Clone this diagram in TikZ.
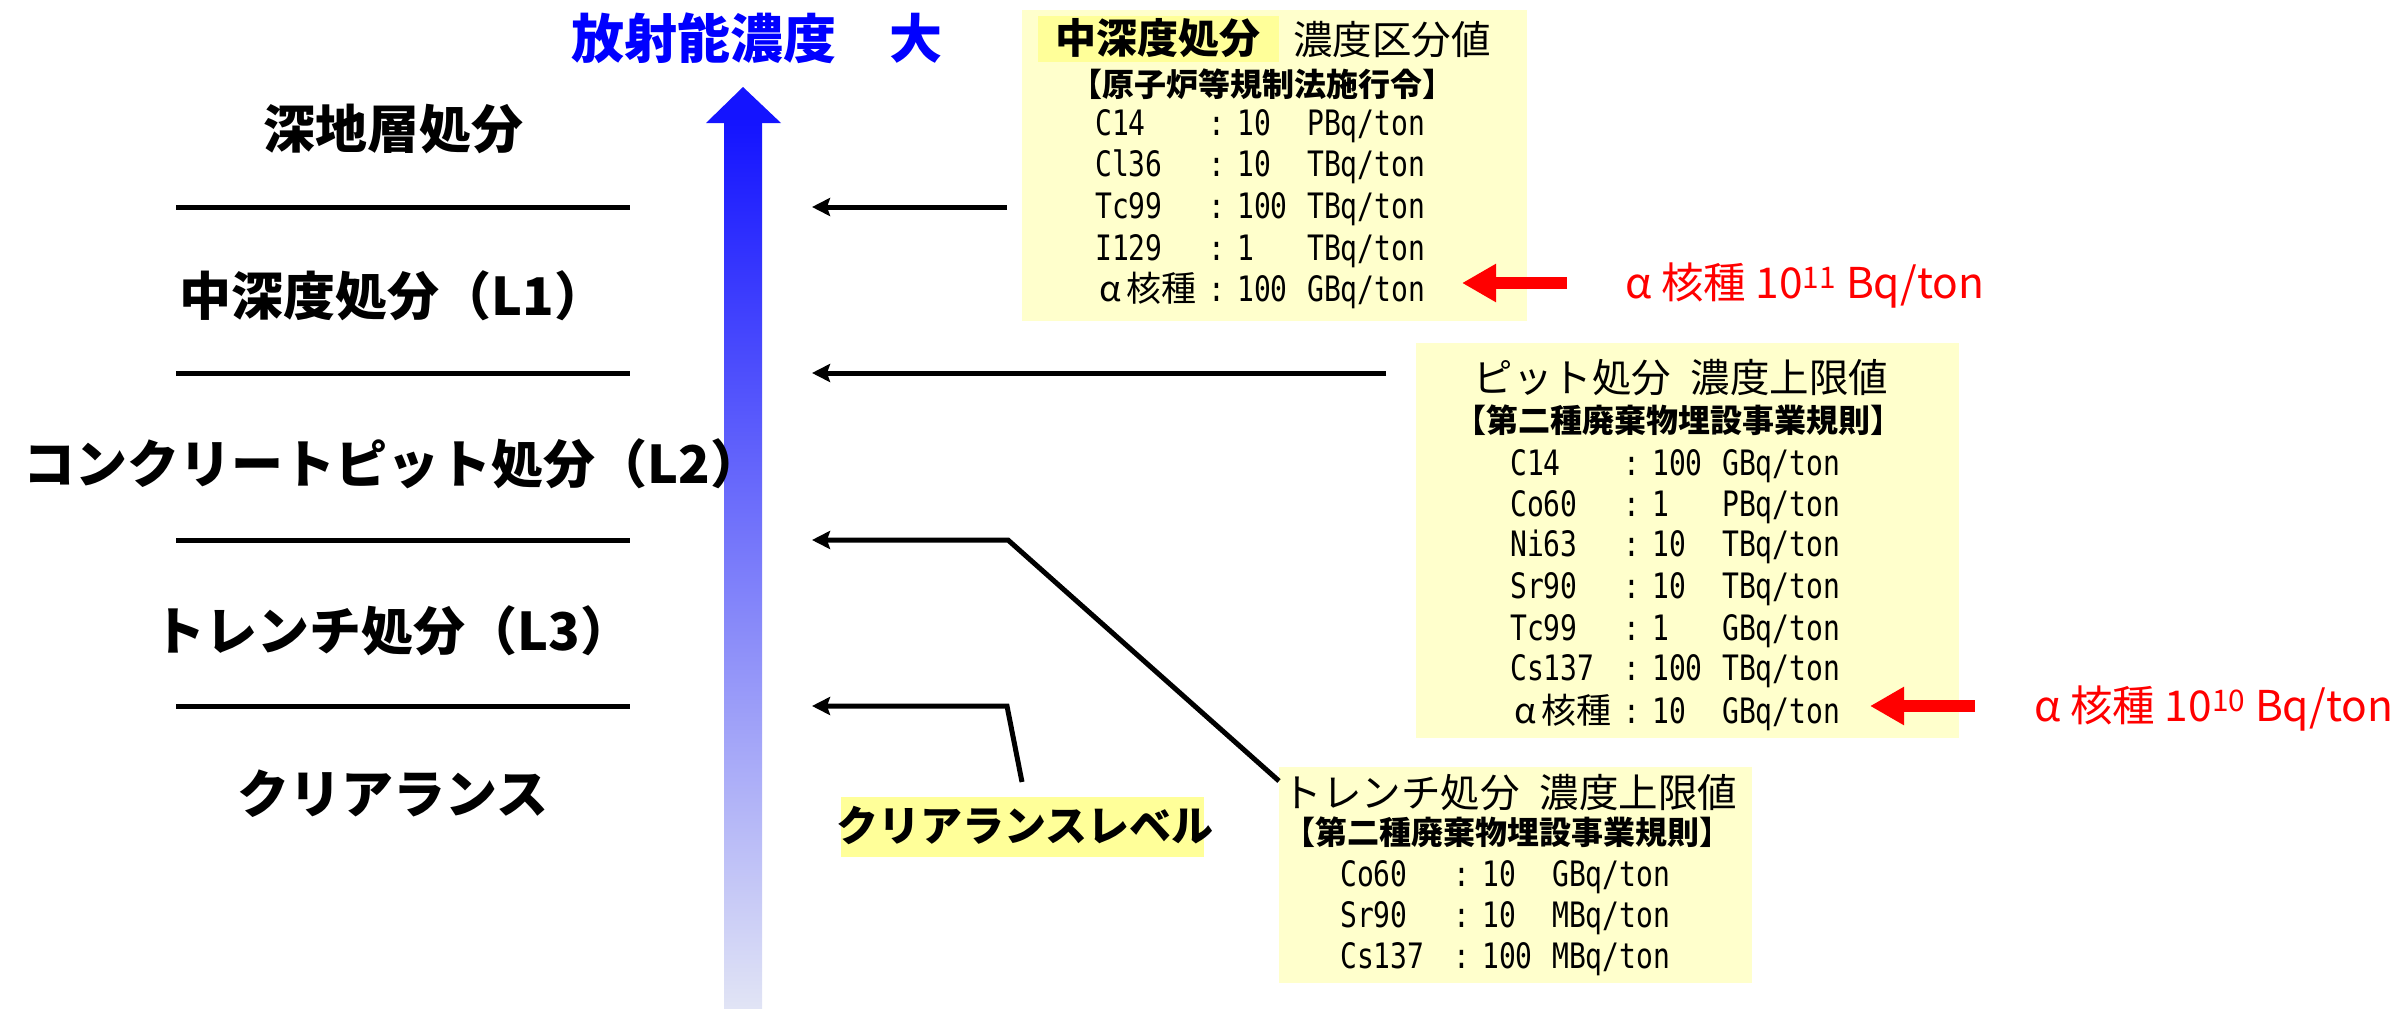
\documentclass[tikz,border=0pt]{standalone}
\usepackage{fontspec}
\newfontfamily\jp{Noto Sans CJK JP}
\newfontfamily\mono{DejaVu Sans Mono}[FakeStretch=0.8]
\usetikzlibrary{arrows.meta}
\definecolor{boxy}{RGB}{255,255,204}
\definecolor{hly}{RGB}{255,255,153}
\definecolor{titleblue}{RGB}{0,0,255}
\definecolor{headblue}{RGB}{20,20,255}
\definecolor{midblue}{RGB}{158,160,248}
\definecolor{lowblue}{RGB}{225,228,245}
\definecolor{redc}{RGB}{255,0,0}
\newcommand\nrow[3]{\makebox[113pt][l]{#1}\makebox[29pt][l]{:}\makebox[70pt][l]{#2}#3}
\newcommand\alf{{\jp\hspace{4pt}α\hspace{5pt}核種}}
\begin{document}
\begin{tikzpicture}[x=1pt,y=-1pt,
  lab/.style={inner sep=0pt, anchor=base, font=\jp\bfseries\fontsize{52}{60}\selectfont},
  ybox/.style={fill=boxy, inner sep=0pt, anchor=north west},
  hlbox/.style={fill=hly, inner sep=0pt, anchor=north west},
  rowtxt/.style={anchor=base west, inner sep=0pt, font=\mono\fontsize{35}{40}\selectfont},
  boxtitle/.style={anchor=base, inner sep=0pt, font=\jp\fontsize{39.5}{45}\selectfont},
  boxsub/.style={anchor=base, inner sep=0pt, font=\jp\bfseries\fontsize{32}{36}\selectfont},
  blk/.style={line width=5pt, line join=miter, -{Stealth[length=18pt,width=18pt,inset=3pt]}},
  redarrow/.style={draw=redc, line width=12pt, -{Triangle[length=34pt,width=36pt]}},
  redtxt/.style={anchor=base west, inner sep=0pt, text=redc, font=\jp\fontsize{42.5}{48}\selectfont},
  sep/.style={line width=5pt}
]
\useasboundingbox (0,0) rectangle (2407,1009);

% vertical concentration arrow
\shade[top color=headblue, middle color=midblue, bottom color=lowblue] (724,123) rectangle (762,1008);
\fill[headblue] (743,87) -- (706,123) -- (781,123) -- cycle;
\node[anchor=base west, inner sep=0pt, text=titleblue, font=\jp\bfseries\fontsize{53}{60}\selectfont] (title) at (571,58) {放射能濃度　大};

% separators
\draw[sep] (176,207) -- (630,207);
\draw[sep] (176,373) -- (630,373);
\draw[sep] (176,540) -- (630,540);
\draw[sep] (176,706) -- (630,706);

% level labels
\node[lab] (deep) at (393,148) {深地層処分};
\node[lab] (l1) at (393,315) {中深度処分（L1）};
\node[lab] (l2) at (393,483) {コンクリートピット処分（L2）};
\node[lab] (l3) at (393,650) {トレンチ処分（L3）};
\node[lab] (clear) at (393,813) {クリアランス};

% box 1
\node[ybox, minimum width=505pt, minimum height=311pt] (box1) at (1022,10) {};
\node[hlbox, minimum width=241pt, minimum height=46pt] (hl1) at (1038,16) {};
\node[anchor=base west, inner sep=0pt, font=\jp\bfseries\fontsize{41}{46}\selectfont] (b1ta) at (1055,53) {中深度処分};
\node[anchor=base west, inner sep=0pt, font=\jp\fontsize{39.5}{45}\selectfont] (b1tb) at (1293,54) {濃度区分値};
\node[boxsub] (b1s) at (1262,96) {【原子炉等規制法施行令】};
\node[rowtxt] (b1r1) at (1095,135) {\nrow{C14}{10}{PBq/ton}};
\node[rowtxt] (b1r2) at (1095,176) {\nrow{Cl36}{10}{TBq/ton}};
\node[rowtxt] (b1r3) at (1095,218) {\nrow{Tc99}{100}{TBq/ton}};
\node[rowtxt] (b1r4) at (1095,260) {\nrow{I129}{1}{TBq/ton}};
\node[rowtxt] (b1r5) at (1095,301) {\nrow{\alf}{100}{GBq/ton}};

% box 2
\node[ybox, minimum width=543pt, minimum height=395pt] (box2) at (1416,343) {};
\node[boxtitle] (b2t) at (1681,392) {ピット処分\hspace{0.5em}濃度上限値};
\node[boxsub] (b2s) at (1678,432) {【第二種廃棄物埋設事業規則】};
\node[rowtxt] (b2r1) at (1510,475) {\nrow{C14}{100}{GBq/ton}};
\node[rowtxt] (b2r2) at (1510,516) {\nrow{Co60}{1}{PBq/ton}};
\node[rowtxt] (b2r3) at (1510,556) {\nrow{Ni63}{10}{TBq/ton}};
\node[rowtxt] (b2r4) at (1510,598) {\nrow{Sr90}{10}{TBq/ton}};
\node[rowtxt] (b2r5) at (1510,640) {\nrow{Tc99}{1}{GBq/ton}};
\node[rowtxt] (b2r6) at (1510,680) {\nrow{Cs137}{100}{TBq/ton}};
\node[rowtxt] (b2r7) at (1510,723) {\nrow{\alf}{10}{GBq/ton}};

% box 3
\node[ybox, minimum width=473pt, minimum height=216pt] (box3) at (1279,767) {};
\node[boxtitle] (b3t) at (1510,807) {トレンチ処分\hspace{0.5em}濃度上限値};
\node[boxsub] (b3s) at (1507,844) {【第二種廃棄物埋設事業規則】};
\node[rowtxt] (b3r1) at (1340,886) {\nrow{Co60}{10}{GBq/ton}};
\node[rowtxt] (b3r2) at (1340,927) {\nrow{Sr90}{10}{MBq/ton}};
\node[rowtxt] (b3r3) at (1340,968) {\nrow{Cs137}{100}{MBq/ton}};

% clearance level label
\node[hlbox, minimum width=363pt, minimum height=60pt] (clhl) at (841,797) {};
\node[anchor=base, inner sep=0pt, font=\jp\bfseries\fontsize{42}{48}\selectfont] (cltxt) at (1025,841) {クリアランスレベル};

% black connectors
\coordinate (t1) at (812,207); \coordinate (s1) at (1007,207);
\coordinate (t2) at (812,373); \coordinate (s2) at (1386,373);
\coordinate (t3) at (812,540); \coordinate (k3) at (1008,540); \coordinate (s3) at (1279,781);
\coordinate (t4) at (812,706); \coordinate (k4) at (1007,706); \coordinate (s4) at (1022,782);
\draw[blk] (s1) -- (t1);
\draw[blk] (s2) -- (t2);
\draw[blk] (s3) -- (k3) -- (t3);
\draw[blk] (s4) -- (k4) -- (t4);

% red arrows and notes
\coordinate (r1s) at (1567,283); \coordinate (r1t) at (1462,283);
\coordinate (r2s) at (1975,706); \coordinate (r2t) at (1870,706);
\draw[redarrow] (r1s) -- (r1t);
\draw[redarrow] (r2s) -- (r2t);
\node[redtxt] (n1) at (1625,298) {α 核種 10\textsuperscript{11} Bq/ton};
\node[redtxt] (n2) at (2034,721) {α 核種 10\textsuperscript{10} Bq/ton};
\end{tikzpicture}
\end{document}
